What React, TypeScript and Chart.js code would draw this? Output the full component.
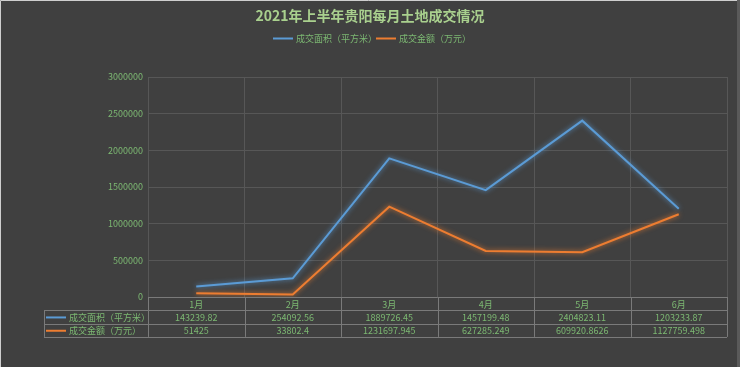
import React, { useEffect, useRef } from "react";
import { Chart, registerables } from "chart.js";

Chart.register(...registerables);

const title = "2021年上半年贵阳每月土地成交情况";
const categories = ["1月", "2月", "3月", "4月", "5月", "6月"];
const seriesNames = ["成交面积（平方米）", "成交金额（万元）"];
const areaValues = [143239.82, 254092.56, 1889726.45, 1457199.48, 2404823.11, 1203233.87];
const amountValues = [51425, 33802.4, 1231697.945, 627285.249, 609920.8626, 1127759.498];
const areaLabels = ["143239.82", "254092.56", "1889726.45", "1457199.48", "2404823.11", "1203233.87"];
const amountLabels = ["51425", "33802.4", "1231697.945", "627285.249", "609920.8626", "1127759.498"];

const BLUE = "#5b9bd5";
const ORANGE = "#ed7d31";
const BG = "#404040";
const GRID = "#575757";
const TABLE_LINE = "#7a7a7a";
const GREEN = "#7cb872";
const FONT = "'Noto Sans CJK SC', 'Noto Sans', sans-serif";

export default function App() {
  const ref = useRef<HTMLCanvasElement>(null);
  useEffect(() => {
    document.body.style.margin = "0";
    const canvas = ref.current!;
    const glow = {
      id: "glow",
      beforeDatasetDraw(chart: any, args: any) {
        const ctx = chart.ctx;
        ctx.save();
        ctx.shadowColor = args.index === 0 ? "rgba(91,155,213,0.9)" : "rgba(237,125,49,0.9)";
        ctx.shadowBlur = 5;
      },
      afterDatasetDraw(chart: any) {
        chart.ctx.restore();
      },
    };
    const deco = {
      id: "deco",
      beforeDraw(chart: any) {
        const ctx = chart.ctx;
        ctx.save();
        ctx.fillStyle = BG;
        ctx.fillRect(0, 0, chart.width, chart.height);
        ctx.strokeStyle = "#cfcfcf";
        ctx.lineWidth = 1;
        ctx.beginPath();
        ctx.moveTo(0.5, chart.height);
        ctx.lineTo(0.5, 0.5);
        ctx.lineTo(chart.width - 3, 0.5);
        ctx.stroke();
        ctx.fillStyle = "#5a5a5a";
        ctx.fillRect(chart.width - 3, 0, 3, chart.height);
        ctx.restore();
      },
      afterDraw(chart: any) {
        const ctx = chart.ctx;
        const x = chart.scales.x;
        const area = chart.chartArea;
        ctx.save();
        ctx.fillStyle = "#a9d08e";
        ctx.font = `bold 14px ${FONT}`;
        ctx.textAlign = "center";
        ctx.textBaseline = "middle";
        ctx.fillText(title, 370, 16);
        ctx.font = `9px ${FONT}`;
        ctx.textAlign = "left";
        const legendItems = [
          { x: 273, color: BLUE, text: seriesNames[0] },
          { x: 376, color: ORANGE, text: seriesNames[1] },
        ];
        legendItems.forEach((it) => {
          ctx.strokeStyle = it.color;
          ctx.lineWidth = 2;
          ctx.beginPath();
          ctx.moveTo(it.x, 38.5);
          ctx.lineTo(it.x + 20, 38.5);
          ctx.stroke();
          ctx.fillStyle = GREEN;
          ctx.fillText(it.text, it.x + 23, 38.5);
        });
        const top = area.bottom;
        const rowH = 13.3;
        const left = area.left;
        const right = area.right;
        const tableLeft = 44;
        const step = (right - left) / categories.length;
        ctx.strokeStyle = TABLE_LINE;
        ctx.lineWidth = 1;
        ctx.beginPath();
        ctx.moveTo(left, top + 0.5);
        ctx.lineTo(right, top + 0.5);
        for (let r = 1; r <= 3; r++) {
          const yy = Math.round(top + rowH * r) + 0.5;
          ctx.moveTo(tableLeft, yy);
          ctx.lineTo(right, yy);
        }
        for (let c = 0; c <= categories.length; c++) {
          const xx = Math.round(left + step * c) + 0.5;
          ctx.moveTo(xx, top);
          ctx.lineTo(xx, top + rowH * 3);
        }
        ctx.moveTo(tableLeft + 0.5, top + rowH);
        ctx.lineTo(tableLeft + 0.5, top + rowH * 3);
        ctx.stroke();
        ctx.font = `9px ${FONT}`;
        ctx.fillStyle = GREEN;
        ctx.textAlign = "center";
        categories.forEach((c, i) => {
          const cx = x.getPixelForValue(i);
          ctx.fillText(c, cx, top + rowH * 0.5 + 0.5);
          ctx.fillText(areaLabels[i], cx, top + rowH * 1.5 + 0.5);
          ctx.fillText(amountLabels[i], cx, top + rowH * 2.5 + 0.5);
        });
        ctx.textAlign = "left";
        [BLUE, ORANGE].forEach((col, r) => {
          const yy = top + rowH * (1.5 + r) + 0.5;
          ctx.strokeStyle = col;
          ctx.lineWidth = 2;
          ctx.beginPath();
          ctx.moveTo(tableLeft + 2, yy);
          ctx.lineTo(tableLeft + 22, yy);
          ctx.stroke();
          ctx.fillStyle = GREEN;
          ctx.fillText(seriesNames[r], tableLeft + 25, yy);
        });
        ctx.restore();
      },
    };
    const chart = new Chart(canvas, {
      type: "line",
      data: {
        labels: categories,
        datasets: [
          {
            label: seriesNames[0],
            data: areaValues,
            borderColor: BLUE,
            backgroundColor: BLUE,
            borderWidth: 2,
            pointRadius: 0,
            tension: 0,
          },
          {
            label: seriesNames[1],
            data: amountValues,
            borderColor: ORANGE,
            backgroundColor: ORANGE,
            borderWidth: 2,
            pointRadius: 0,
            tension: 0,
          },
        ],
      },
      options: {
        responsive: false,
        animation: false,
        devicePixelRatio: 1,
        layout: { padding: { left: 0, right: 13, top: 77, bottom: 70 } },
        plugins: {
          legend: { display: false },
          title: { display: false },
          tooltip: { enabled: false },
        },
        scales: {
          x: {
            offset: true,
            grid: { color: GRID, offset: true, drawTicks: false },
            border: { display: false },
            ticks: { display: false },
            afterFit(s: any) {
              s.height = 0;
            },
          },
          y: {
            min: 0,
            max: 3000000,
            ticks: {
              stepSize: 500000,
              color: GREEN,
              font: { size: 9, family: FONT },
              padding: 5,
              callback: (v: any) => String(v),
            },
            grid: { color: GRID, drawTicks: false },
            border: { display: true, color: GRID },
            afterFit(s: any) {
              s.width = 148;
            },
          },
        },
      },
      plugins: [deco, glow],
    });
    return () => chart.destroy();
  }, []);
  return <canvas ref={ref} width={740} height={367} style={{ display: "block" }} />;
}
